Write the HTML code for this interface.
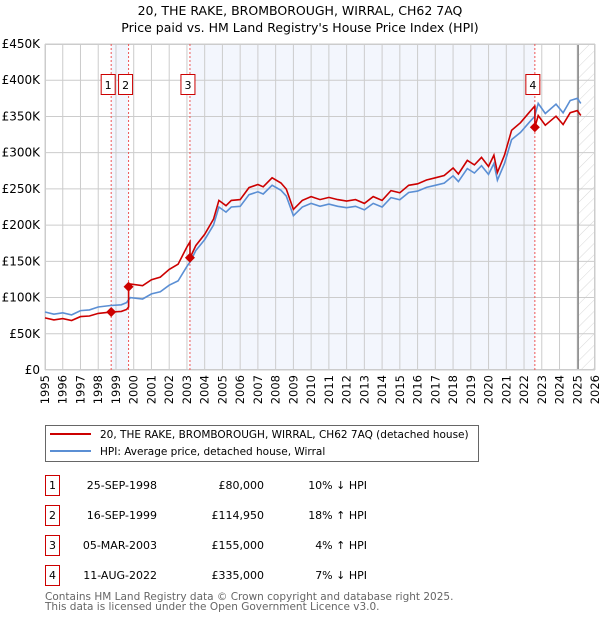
<!DOCTYPE html>
<html><head><meta charset="utf-8"><style>
body{margin:0;background:#fff;}
svg{display:block;font-family:"DejaVu Sans","Liberation Sans",sans-serif;}
</style></head><body>
<svg id="chart" width="600" height="620" viewBox="0 0 600 620" xmlns="http://www.w3.org/2000/svg">
<text x="300" y="15" text-anchor="middle" font-size="12.5" fill="#000">20, THE RAKE, BROMBOROUGH, WIRRAL, CH62 7AQ</text>
<text x="300" y="32" text-anchor="middle" font-size="12.5" fill="#000">Price paid vs. HM Land Registry's House Price Index (HPI)</text>
<defs><pattern id="hatch" width="8" height="8" patternUnits="userSpaceOnUse" patternTransform="rotate(45)"><line x1="0" y1="0" x2="0" y2="8" stroke="#d8d8d8" stroke-width="1"/></pattern></defs>
<g id="plot"></g>
<g>
<rect x="45.5" y="425.5" width="433" height="36" fill="#fff" stroke="#666"/>
<line x1="50" y1="434" x2="91" y2="434" stroke="#cc0000" stroke-width="2"/>
<text x="100" y="438" font-size="10.5">20, THE RAKE, BROMBOROUGH, WIRRAL, CH62 7AQ (detached house)</text>
<line x1="50" y1="451" x2="91" y2="451" stroke="#5b8fd4" stroke-width="2"/>
<text x="100" y="455" font-size="10.5">HPI: Average price, detached house, Wirral</text>
</g>
<g id="table" font-size="11"></g>
<text x="45" y="600" font-size="10.5" fill="#666">Contains HM Land Registry data © Crown copyright and database right 2025.</text>
<text x="45" y="610" font-size="10.5" fill="#666">This data is licensed under the Open Government Licence v3.0.</text>
</svg>
<script>
const yearTicks=[1995,1996,1997,1998,1999,2000,2001,2002,2003,2004,2005,2006,2007,2008,2009,2010,2011,2012,2013,2014,2015,2016,2017,2018,2019,2020,2021,2022,2023,2024,2025,2026];
const priceTicks=[0,50000,100000,150000,200000,250000,300000,350000,400000,450000];
const priceTickLabels=["£0","£50K","£100K","£150K","£200K","£250K","£300K","£350K","£400K","£450K"];
const hpiDates=[1995,1995.5,1996,1996.5,1997,1997.5,1998,1998.7,1999.3,1999.6,1999.8,2000.5,2001,2001.5,2002,2002.5,2003,2003.2,2003.5,2004,2004.5,2004.8,2005.2,2005.5,2006,2006.5,2007,2007.3,2007.8,2008.3,2008.6,2009,2009.5,2010,2010.5,2011,2011.5,2012,2012.5,2013,2013.5,2014,2014.5,2015,2015.5,2016,2016.5,2017,2017.5,2018,2018.3,2018.8,2019.2,2019.6,2020,2020.3,2020.5,2020.9,2021.3,2021.8,2022.3,2022.6,2022.8,2023.2,2023.8,2024.2,2024.6,2025,2025.2];
const hpiValues=[80000,77000,79000,76000,82000,83000,87000,89000,90000,93000,100000,98000,105000,108000,117000,123000,143000,150000,165000,180000,200000,225000,218000,225000,226000,242000,246000,243000,255000,248000,240000,213000,225000,230000,226000,229000,226000,224000,226000,221000,230000,225000,238000,235000,245000,247000,252000,255000,258000,268000,260000,278000,272000,282000,270000,285000,262000,285000,318000,328000,342000,350000,368000,354000,367000,355000,372000,375000,368000];
const saleDates=[1998.73,1999.71,2003.17,2022.61];
const salePrices=[80000,114950,155000,335000];
const saleLabels=["25-SEP-1998","16-SEP-1999","05-MAR-2003","11-AUG-2022"];
const salePriceText=["£80,000","£114,950","£155,000","£335,000"];
const saleHpiText=["10% ↓ HPI","18% ↑ HPI","4% ↑ HPI","7% ↓ HPI"];

const X0=45,X1=595,Y0=370,Y1=44;
const xs=t=>X0+(t-1995)/(2026-1995)*(X1-X0);
const ys=v=>Y0-v/450000*(Y0-Y1);
const NS="http://www.w3.org/2000/svg";
const plot=document.getElementById('plot');
function mk(tag,attrs,parent){const e=document.createElementNS(NS,tag);for(const k in attrs)e.setAttribute(k,attrs[k]);(parent||plot).appendChild(e);return e;}
function hpiAt(t){if(t<=hpiDates[0])return hpiValues[0];for(let i=1;i<hpiDates.length;i++){if(t<=hpiDates[i]){const f=(t-hpiDates[i-1])/(hpiDates[i]-hpiDates[i-1]);return hpiValues[i-1]+f*(hpiValues[i]-hpiValues[i-1]);}}return hpiValues[hpiValues.length-1];}

let r=mk('rect',{x:X0,y:Y1,width:X1-X0,height:Y0-Y1,fill:'#fff'});


let s1=mk('rect',{x:xs(saleDates[0]),y:Y1,width:xs(saleDates[1])-xs(saleDates[0]),height:Y0-Y1,fill:'#f3f6fd'});


let s2=mk('rect',{x:xs(saleDates[2]),y:Y1,width:xs(saleDates[3])-xs(saleDates[2]),height:Y0-Y1,fill:'#f3f6fd'});


let hz=mk('rect',{x:xs(2025.05),y:Y1,width:X1-xs(2025.05),height:Y0-Y1,fill:'url(#hatch)'});


yearTicks.forEach(y=>{const l=mk('line',{x1:xs(y),x2:xs(y),y1:Y1,y2:Y0,stroke:'#ccc','stroke-width':1});


const t=mk('text',{x:0,y:0,transform:`translate(${xs(y)+4},${Y0+5}) rotate(-90)`,'text-anchor':'end','font-size':11.5});
t.textContent=y;

});
priceTicks.forEach((p,i)=>{const l=mk('line',{x1:X0,x2:X1,y1:ys(p),y2:ys(p),stroke:'#ccc','stroke-width':1});


const t=mk('text',{x:X0-5,y:ys(p)+4,'text-anchor':'end','font-size':12});
t.textContent=priceTickLabels[i];

});
let bl=mk('line',{x1:xs(2025.05),x2:xs(2025.05),y1:Y1,y2:Y0,stroke:'#888','stroke-width':1.5});


let fr=mk('rect',{x:X0+0.5,y:Y1+0.5,width:X1-X0-1,height:Y0-Y1-1,fill:'none',stroke:'#ccc'});



saleDates.forEach((d,i)=>{const l=mk('line',{x1:xs(d),x2:xs(d),y1:Y1,y2:Y0,stroke:'#e55','stroke-width':1,'stroke-dasharray':'2,2'});

});

let hp=hpiDates.map((d,i)=>xs(d).toFixed(1)+','+ys(hpiValues[i]).toFixed(1)).join(' ');
let hl=mk('polyline',{points:hp,fill:'none',stroke:'#5b8fd4','stroke-width':1.6});


function ratioAt(t){let k=0;for(let i=0;i<saleDates.length;i++)if(t>=saleDates[i])k=i;return salePrices[k]/hpiAt(saleDates[k]);}
let pts=[];
const all=[...hpiDates,...saleDates].sort((a,b)=>a-b);
all.forEach(t=>{
  const si=saleDates.indexOf(t);
  if(si>0){pts.push([t,hpiAt(t)*salePrices[si-1]/hpiAt(saleDates[si-1])]);}
  pts.push([t,hpiAt(t)*ratioAt(t)]);
});
let pl=mk('polyline',{points:pts.map(p=>xs(p[0]).toFixed(1)+','+ys(p[1]).toFixed(1)).join(' '),fill:'none',stroke:'#cc0000','stroke-width':1.6});



saleDates.forEach((d,i)=>{
  const cx=xs(d),cy=ys(salePrices[i]);
  const m=mk('polygon',{points:`${cx},${cy-5} ${cx+5},${cy} ${cx},${cy+5} ${cx-5},${cy}`,fill:'#cc0000'});
  
  
  const bxX=cx-(i<2?10:9);
  const bx=mk('rect',{x:bxX,y:74.5,width:14,height:20,fill:'#fff',stroke:'#cc0000'});
  
  
  const t=mk('text',{x:bxX+7,y:89,'text-anchor':'middle','font-size':11});
  t.textContent=i+1;
  
  
});

const tb=document.getElementById('table');
saleDates.forEach((d,i)=>{
  const cy=485+i*30;
  const b=mk('rect',{x:45.5,y:cy-9.5,width:14,height:20,fill:'#fff',stroke:'#cc0000'},tb);
  
  
  const n=mk('text',{x:52.5,y:cy+4,'text-anchor':'middle'},tb);n.textContent=i+1;
  
  
  const a=mk('text',{x:157,y:cy+4,'text-anchor':'end'},tb);a.textContent=saleLabels[i];
  
  
  const p=mk('text',{x:264,y:cy+4,'text-anchor':'end'},tb);p.textContent=salePriceText[i];
  
  
  const h=mk('text',{x:367,y:cy+4,'text-anchor':'end'},tb);h.textContent=saleHpiText[i];
  
  
});
</script>
</body></html>
